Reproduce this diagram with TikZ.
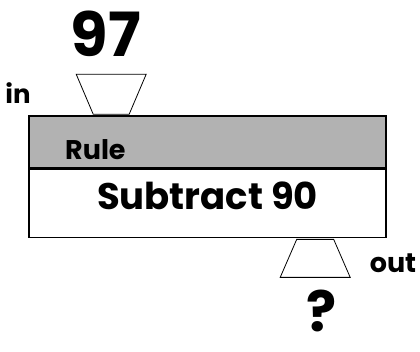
\documentclass[tikz,border=0pt]{standalone}
\usepackage{fontspec}
\setmainfont{Poppins}
\usetikzlibrary{positioning,calc}
\begin{document}
\begin{tikzpicture}[x=1pt,y=1pt,
    every node/.style = {font=\bfseries, inner sep=0pt},
    machine/.style = {draw, line width=1.6pt, minimum width=357pt},
    funnel/.style = {draw, line width=0.8pt, line join=miter}]
  \useasboundingbox (0,0) rectangle (420,352);
  % the machine
  \node[machine, fill=gray!60, minimum height=52pt] (rule) at (207.5,210) {};
  \node[machine, fill=white, minimum height=68pt, below=0pt of rule] (op) {};
  \node[font=\bfseries\fontsize{27}{27}\selectfont, anchor=base west]
    (rulelabel) at (65,192) {Rule};
  \node[font=\bfseries\fontsize{37}{37}\selectfont, anchor=base]
    (oplabel) at (207.5,142) {Subtract 90};
  % input funnel
  \coordinate (inbase) at ([xshift=83pt]rule.north west);
  \draw[funnel] ($(inbase)+(-18,1)$) -- ($(inbase)+(18,1)$)
    -- ($(inbase)+(35,41)$) -- ($(inbase)+(-35,41)$) -- cycle;
  % output funnel
  \coordinate (outbase) at ([xshift=287pt]op.south west);
  \draw[funnel] ($(outbase)+(-18.5,-1)$) -- ($(outbase)+(18.5,-1)$)
    -- ($(outbase)+(35,-39)$) -- ($(outbase)+(-35,-39)$) -- cycle;
  \node[font=\bfseries\fontsize{61}{61}\selectfont, anchor=base] (innum) at (106,295) {97};
  \node[font=\bfseries\fontsize{56}{56}\selectfont, anchor=base, text depth=0pt]
    (outnum) at (322,20) {?};
  \node[font=\bfseries\fontsize{26}{26}\selectfont, anchor=base] (inlabel) at (18,248) {in};
  \node[font=\bfseries\fontsize{27}{27}\selectfont, anchor=base] (outlabel) at (393,79) {out};
\end{tikzpicture}
\end{document}
